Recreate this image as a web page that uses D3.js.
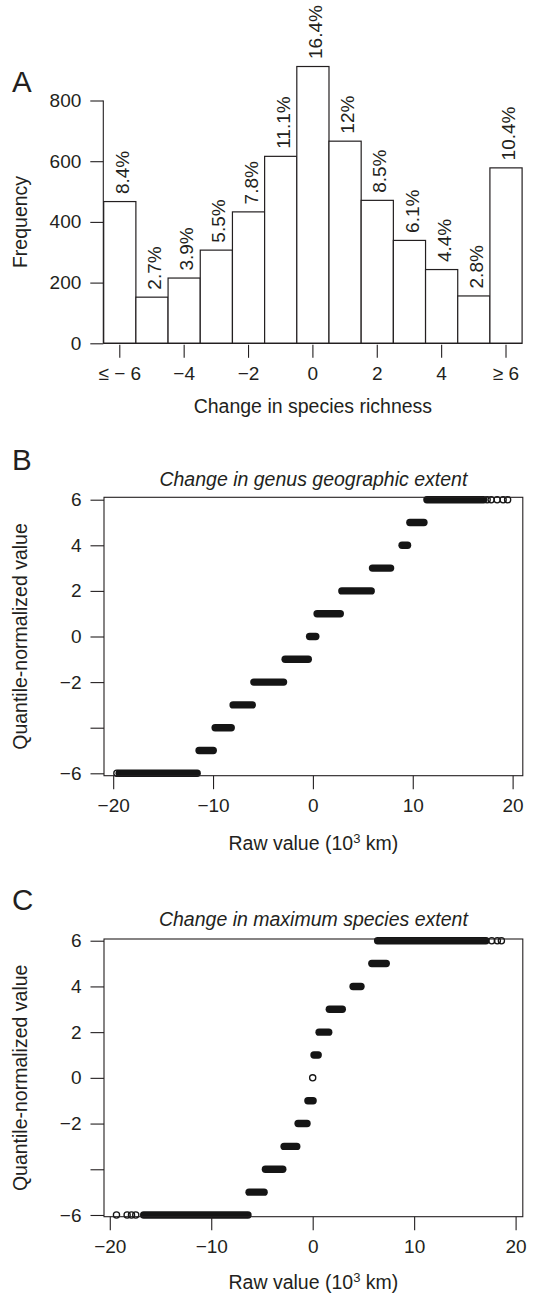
<!DOCTYPE html>
<html><head><meta charset="utf-8">
<script src="https://cdn.jsdelivr.net/npm/d3@7"></script>
<style>
body{margin:0;background:#fff}
svg{display:block}
text{font-family:"Liberation Sans",Arial,Helvetica,sans-serif;fill:#231f20}
</style>
</head><body>
<svg id="chart" width="533" height="1294"></svg>
<script>
// ---------- Panel A data ----------
const histBins = [-6,-5,-4,-3,-2,-1,0,1,2,3,4,5,6];
const histCounts = [467,152,215,307,433,616,912,666,471,339,243,156,578];
const histPercents = ["8.4%","2.7%","3.9%","5.5%","7.8%","11.1%","16.4%","12%","8.5%","6.1%","4.4%","2.8%","10.4%"];
const histTickValues = [-6,-4,-2,0,2,4,6];
const histTickLabels = ["\u2264 \u2212 6","\u22124","\u22122","0","2","4","\u2265 6"];
const freqTicks = [0,200,400,600,800];

// ---------- Panels B / C data ----------
const qLevels = [-6,-5,-4,-3,-2,-1,0,1,2,3,4,5,6];
// genus geographic extent: min / max raw value (10^3 km) of the dense run at each level
const genusBandStart = [-19.4,-11.40,-9.79,-7.99,-5.91,-2.78,-0.33,0.42,2.90,5.97,8.93,9.71,11.42];
const genusBandEnd   = [-11.59,-9.98,-8.18,-6.07,-2.94,-0.46,0.29,2.74,5.84,7.78,9.48,11.12,17.1];
const genusSparseX = [-19.63,17.45,17.85,18.45,19.05,19.5];
const genusSparseY = [-6,6,6,6,6,6];
// maximum species extent
const speciesBandStart = [-16.66,-6.27,-4.66,-2.82,-1.44,-0.47,null,0.13,0.63,1.64,3.98,5.83,6.40];
const speciesBandEnd   = [-6.38,-4.79,-2.95,-1.57,-0.56,0.04,null,0.54,1.58,2.92,4.76,7.25,17.08];
const speciesSparseX = [-19.34,-18.29,-17.86,-17.44,0.0,17.65,18.2,18.6];
const speciesSparseY = [-6,-6,-6,-6,0,6,6,6];
const qTickValues = [-6,-4,-2,0,2,4,6];
const qTickLabels = ["\u22126","","\u22122","0","2","4","6"];
const rawTicks = [-20,-10,0,10,20];
const rawTickLabels = ["\u221220","\u221210","0","10","20"];

const INK = "#231f20";
const FS = 19;
const svg = d3.select("#chart");

function styleAxis(g, fs){
  g.selectAll(".domain").remove();
  g.selectAll(".tick line").attr("stroke", INK).attr("stroke-width", 1.1);
  g.selectAll(".tick text").attr("fill", INK).style("font-size", fs + "px")
    .style("font-family", '"Liberation Sans",Arial,Helvetica,sans-serif');
}

// ================= Panel A =================
{
  const x = d3.scaleBand().domain(histBins).range([103.7, 522.1]).padding(0);
  const y = d3.scaleLinear().domain([0, 800]).range([343.3, 100.5]);

  const g = svg.append("g");
  g.selectAll("rect.bar").data(histBins).join("rect")
    .attr("class","bar")
    .attr("x", d => x(d))
    .attr("width", x.bandwidth())
    .attr("y", (d,i) => y(histCounts[i]))
    .attr("height", (d,i) => y(0) - y(histCounts[i]))
    .attr("fill", "#fff").attr("stroke", INK).attr("stroke-width", 1.2);

  // baseline under bars extends to tick of y-axis
  g.append("line").attr("x1", x(histBins[0])).attr("x2", x(histBins[histBins.length-1]) + x.bandwidth())
    .attr("y1", y(0)).attr("y2", y(0)).attr("stroke", INK).attr("stroke-width", 1.2);

  // percent labels
  g.selectAll("text.pct").data(histBins).join("text")
    .attr("class","pct")
    .attr("transform", (d,i) => `translate(${x(d) + x.bandwidth()/2 + 9.1},${y(histCounts[i]) - 7.5}) rotate(-90)`)
    .attr("text-anchor","start")
    .style("font-size", FS + "px")
    .text((d,i) => histPercents[i]);

  // y axis
  const ya = g.append("g").attr("transform", "translate(103.3,0)")
    .call(d3.axisLeft(y).tickValues(freqTicks).tickSize(13).tickPadding(9));
  styleAxis(ya, FS);
  g.append("line").attr("x1",103.3).attr("x2",103.3).attr("y1",y(0)).attr("y2",y(800))
    .attr("stroke",INK).attr("stroke-width",1.1);

  // x axis (ticks only)
  const xa = g.append("g").attr("transform", "translate(0,344.8)")
    .call(d3.axisBottom(x).tickValues(histTickValues).tickSize(13).tickPadding(9)
      .tickFormat((d,i) => histTickLabels[i]));
  styleAxis(xa, FS);
  xa.selectAll(".tick text").attr("dy","0.72em");

  g.append("text").attr("x", 312.9).attr("y", 413).attr("text-anchor","middle")
    .style("font-size", "19.5px").text("Change in species richness");
  g.append("text").attr("transform","translate(26.5,222) rotate(-90)").attr("text-anchor","middle")
    .style("font-size", "19.5px").text("Frequency");
  g.append("text").attr("x", 12).attr("y", 91.5).style("font-size","29.5px").text("A");
}

// ================= Panels B and C =================
function qPanel(opt){
  const {top, bottom, xDomain, yDomain, bandStart, bandEnd, sparseX, sparseY, title, letter, letterY, titleY, xlabY, ticklabOff} = opt;
  const left = 104, right = 522.8;
  const x = d3.scaleLinear().domain(xDomain).range([left, right]);
  const y = d3.scaleLinear().domain(yDomain).range([bottom, top]);
  const g = svg.append("g");

  // dense runs of overlapping open circles
  g.selectAll("line.band").data(qLevels.filter((d,i) => bandStart[i] !== null)).join("line")
    .attr("class","band")
    .attr("x1", d => x(bandStart[qLevels.indexOf(d)]))
    .attr("x2", d => x(bandEnd[qLevels.indexOf(d)]))
    .attr("y1", d => y(d)).attr("y2", d => y(d))
    .attr("stroke", "#151515").attr("stroke-width", 7.4).attr("stroke-linecap","round");

  // isolated points
  g.selectAll("circle.pt").data(sparseX).join("circle")
    .attr("class","pt")
    .attr("cx", d => x(d)).attr("cy", (d,i) => y(sparseY[i]))
    .attr("r", 3.1).attr("fill","none").attr("stroke","#151515").attr("stroke-width",1.3);

  // box
  g.append("rect").attr("x", left).attr("y", top).attr("width", right-left).attr("height", bottom-top)
    .attr("fill","none").attr("stroke",INK).attr("stroke-width",1.1);

  const ya = g.append("g").attr("transform", `translate(${left},0)`)
    .call(d3.axisLeft(y).tickValues(qTickValues).tickSize(13.5).tickPadding(9)
      .tickFormat((d,i) => qTickLabels[i]));
  styleAxis(ya, FS);

  const xa = g.append("g").attr("transform", `translate(0,${bottom})`)
    .call(d3.axisBottom(x).tickValues(rawTicks).tickSize(13.5).tickPadding(ticklabOff)
      .tickFormat((d,i) => rawTickLabels[i]));
  styleAxis(xa, FS);
  xa.selectAll(".tick text").attr("dy","0.72em");

  g.append("text").attr("x", (left+right)/2).attr("y", titleY).attr("text-anchor","middle")
    .style("font-size","19.5px").style("font-style","italic").text(title);

  const xl = g.append("text").attr("x", (left+right)/2).attr("y", xlabY).attr("text-anchor","middle")
    .style("font-size","19.5px");
  xl.append("tspan").text("Raw value (10");
  xl.append("tspan").attr("dy", -7).style("font-size","13px").text("3");
  xl.append("tspan").attr("dy", 7).text(" km)");

  g.append("text").attr("transform", `translate(26.5,${(top+bottom)/2}) rotate(-90)`).attr("text-anchor","middle")
    .style("font-size","19.5px").text("Quantile-normalized value");
  g.append("text").attr("x", 12).attr("y", letterY).style("font-size","29.5px").text(letter);
}

qPanel({top:497.3, bottom:775.7, xDomain:[-20.92,21.02], yDomain:[-6.105,6.105],
  bandStart:genusBandStart, bandEnd:genusBandEnd, sparseX:genusSparseX, sparseY:genusSparseY,
  title:"Change in genus geographic extent", letter:"B", letterY:470, titleY:486, xlabY:850, ticklabOff:9});

qPanel({top:939, bottom:1216.7, xDomain:[-20.57,20.71], yDomain:[-6.075,6.075],
  bandStart:speciesBandStart, bandEnd:speciesBandEnd, sparseX:speciesSparseX, sparseY:speciesSparseY,
  title:"Change in maximum species extent", letter:"C", letterY:910, titleY:926, xlabY:1289, ticklabOff:9});
</script>
</body></html>
